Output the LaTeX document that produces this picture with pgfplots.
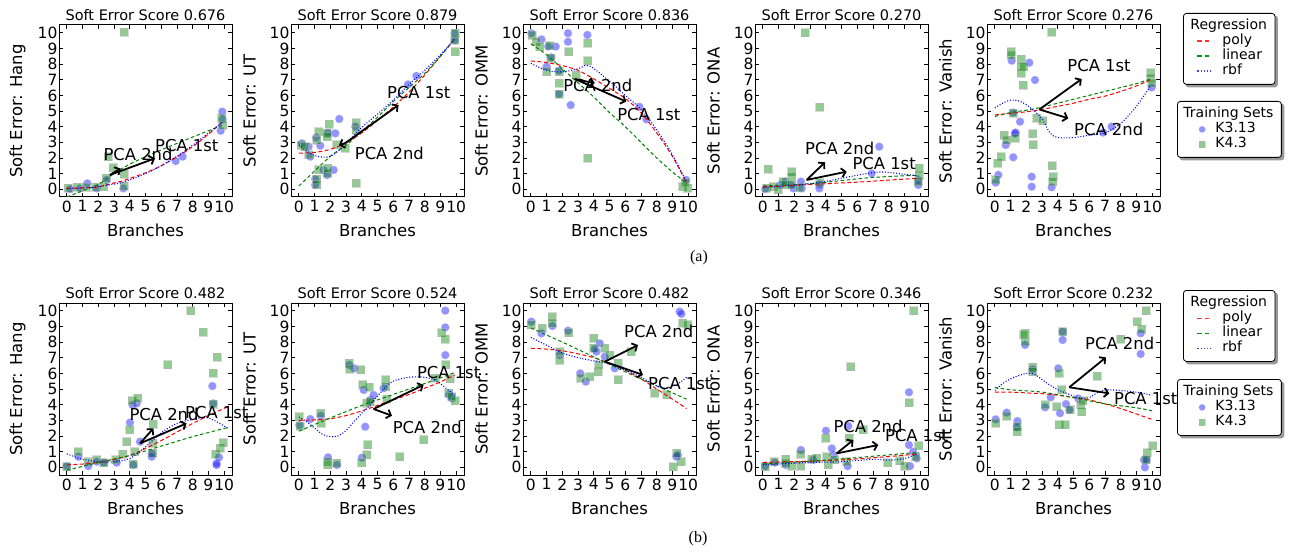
\documentclass[border=0pt]{standalone}
\usepackage{fontspec}
\setmainfont{DejaVu Sans}
\newfontfamily\capfont{Liberation Serif}
\usepackage{pgfplots}
\pgfplotsset{compat=1.18}
\usetikzlibrary{arrows.meta}
\pgfdeclarelayer{background}
\pgfsetlayers{background,main}

\pgfplotsset{
  panel/.style={
    scale only axis, width=173pt, height=172pt, anchor=south west,
    xmin=-0.5, xmax=10.5, ymin=-0.5, ymax=10.5,
    xtick={0,...,10}, ytick={0,...,10},
    tick align=inside, major tick length=4pt,
    tick style={black, line width=0.8pt},
    axis line style={black, line width=1pt},
    /pgf/number format/assume math mode=true,
    ticklabel style={font=\fontsize{15.5}{16}\selectfont},
    yticklabel style={xshift=2pt},
    every axis title/.style={at={(axis description cs:0.5,1)}, anchor=south, yshift=2.3pt, inner sep=2pt, font=\fontsize{14.5}{16}\selectfont},
    xlabel={Branches},
    every axis x label/.style={at={(axis description cs:0.5,-0.195)}, anchor=center, font=\fontsize{16.5}{18}\selectfont},
    every axis y label/.style={at={(axis description cs:-0.24,0.5)}, anchor=center, rotate=90, font=\fontsize{16.5}{18}\selectfont},
    clip mode=individual,
  },
  ptsA/.style={only marks, mark=*, mark size=4pt, mark options={fill=blue, fill opacity=0.42, draw=blue!40, draw opacity=0.3, line width=0.8pt}},
  ptsB/.style={only marks, mark=square*, mark size=4pt, mark options={fill=green!50!black, fill opacity=0.42, draw=gray!60, draw opacity=0.5, line width=1pt}},
  poly/.style={red, dash pattern=on 4pt off 2.5pt, line width=1pt, smooth, no marks},
  lin/.style={green!50!black, dash pattern=on 3.5pt off 2.5pt, line width=1pt, smooth, no marks},
  rbf/.style={blue, dash pattern=on 1pt off 1.8pt, line width=1.1pt, smooth, no marks},
  pca/.style={black, line width=1.8pt, -{Straight Barb[length=4pt,width=9pt]}, no marks},
  legbox/.style={hide axis, scale only axis, width=10pt, height=10pt, anchor=north west,
    xmin=0, xmax=1, ymin=0, ymax=1, legend cell align=left,
    legend style={at={(axis description cs:0,1)}, anchor=north west, draw=black, line width=0.8pt,
      rounded corners=3pt, fill=white, inner xsep=8pt, inner ysep=5.5pt, row sep=0pt,
      font=\fontsize{14}{14}\selectfont,
      nodes={inner sep=0pt, text height=11pt, text depth=4pt},
      /tikz/every odd column/.append style={column sep=#1}}},
  regbox/.style={legbox=9pt,
    legend image code/.code={\path[draw=none,fill=none] (0pt,0pt) -- (22pt,0pt); \draw[##1] (6pt,0pt) -- (19pt,0pt);}},
  trainbox/.style={legbox=8pt,
    legend image code/.code={\path[draw=none,fill=none] (0pt,0pt) -- (22pt,0pt); \draw[##1] plot coordinates {(16.7pt,0pt)};}},
}
\tikzset{pcatxt/.style={anchor=base west, inner sep=0pt, font=\fontsize{16.4}{18}\selectfont}}

\newcommand{\reglegend}{%
  \addlegendimage{empty legend}
  \addlegendentry{\hspace*{-32pt}Regression}
  \addlegendimage{draw=red!80, dash pattern=on 4.5pt off 3pt, line width=1.8pt, sharp corners}
  \addlegendentry{poly}
  \addlegendimage{draw=green!60!black, dash pattern=on 4.5pt off 3pt, line width=1.8pt, sharp corners}
  \addlegendentry{linear}
  \addlegendimage{draw=blue!75, dash pattern=on 1.3pt off 1.8pt, line width=1.8pt, sharp corners}
  \addlegendentry{rbf}
}
\newcommand{\trainlegend}{%
  \addlegendimage{empty legend}
  \addlegendentry{\hspace*{-32pt}Training Sets}
  \addlegendimage{only marks, mark=*, mark size=3.2pt, mark options={sharp corners, solid, fill=blue, fill opacity=0.42, draw=blue!40, draw opacity=0.3, line width=0.5pt}}
  \addlegendentry{K3.13}
  \addlegendimage{only marks, mark=square*, mark size=3.2pt, mark options={sharp corners, solid, fill=green!50!black, fill opacity=0.42, draw=gray!60, draw opacity=0.5, line width=0.8pt}}
  \addlegendentry{K4.3}
}
\newcommand{\legshadow}[1]{%
  \begin{pgfonlayer}{background}
  \fill[black!40, rounded corners=3pt] ([xshift=2.5pt,yshift=-2.5pt]#1.south west) rectangle ([xshift=2.5pt,yshift=-2.5pt]#1.north east);
  \end{pgfonlayer}}

\begin{document}
\begin{tikzpicture}
\useasboundingbox (0pt,0pt) rectangle (1289pt,552pt);

% ================= Row (a) =================
\begin{axis}[panel, at={(59pt,355pt)}, title={Soft Error Score 0.676}, ylabel={Soft Error: Hang}]
\addplot[ptsA] coordinates {(0.2,0) (0.84,0.05) (1.3,0.37) (1.9,0.05) (2.53,0.59) (3.59,0.05) (6.92,1.8) (7.36,2.08) (9.88,4.96) (9.78,3.74) (9.9,4.47)};
\addplot[ptsB] coordinates {(0.09,0.05) (0.66,0.12) (1.22,0.12) (1.83,0.12) (2.36,0.16) (2.49,0.69) (2.64,2.08) (2.95,1.38) (3.65,0.97) (3.65,10.03) (3.65,0.2) (9.84,4.53) (9.9,4.1)};
\addplot[poly] coordinates {(0,0.05) (1,0.08) (2,0.15) (3,0.4) (3.6,0.55) (5,1.05) (6,1.5) (7.3,2.25) (8.5,3.1) (9.9,4.3)};
\addplot[lin] coordinates {(0,-0.5) (1,-0.1) (2,0.3) (3,1.0) (4,1.6) (5.5,2.3) (7.3,3.05) (9.9,4.1)};
\addplot[rbf] coordinates {(0,0.05) (1.5,0.1) (2.5,0.25) (3.6,0.45) (5,1.0) (6,1.5) (7.3,2.3) (8.5,3.2) (9.9,4.3)};
\addplot[pca] coordinates {(2.74,0.91) (5.6,1.97)};
\addplot[pca] coordinates {(2.74,0.91) (3.42,1.33)};
\node[pcatxt] at (axis cs:2.32,1.82) {PCA 2nd};
\node[pcatxt] at (axis cs:5.6,2.4) {PCA 1st};
\end{axis}

\begin{axis}[panel, at={(291pt,355pt)}, title={Soft Error Score 0.879}, ylabel={Soft Error: UT}]
\addplot[ptsA] coordinates {(0.2,2.93) (0.62,2.72) (1.1,3.3) (1.36,2.78) (0.73,2.08) (1.04,0.65) (1.04,0.27) (1.57,1.23) (2.21,1.23) (1.85,3.61) (2.32,3.57) (2.57,4.49) (3.59,4.0) (6.94,6.7) (7.47,7.24) (9.9,9.97) (9.94,9.54) (1.79,0.9)};
\addplot[ptsB] coordinates {(0.14,2.82) (0.37,2.72) (0.62,2.19) (1.15,0.65) (1.15,0.27) (1.26,1.23) (1.26,3.68) (1.79,3.57) (1.79,3.36) (1.94,4.15) (1.83,1.01) (1.83,1.33) (2.42,2.83) (2.95,2.61) (3.65,4.25) (3.65,3.78) (3.65,0.37) (9.9,9.54) (9.94,8.8) (9.94,9.97) (1.15,3.14)};
\addplot[poly] coordinates {(0,2.3) (1,2.35) (2,2.55) (3,2.95) (4,3.6) (5,4.4) (6,5.25) (7,6.2) (8,7.3) (9,8.5) (9.9,9.6)};
\addplot[lin] coordinates {(0,0.2) (2,2.1) (3,2.8) (4,3.7) (5,4.6) (6,5.6) (7,6.5) (8,7.4) (9,8.5) (9.9,9.6)};
\addplot[rbf] coordinates {(0,2.8) (1,2.15) (2,2.1) (3,2.9) (4,3.95) (5,4.8) (6,5.7) (7,6.7) (8,7.6) (9,8.6) (9.9,9.6)};
\addplot[pca] coordinates {(2.95,2.95) (6.34,5.38)};
\addplot[pca] coordinates {(2.95,2.95) (2.55,2.8)};
\node[pcatxt] at (axis cs:5.6,5.8) {PCA 1st};
\node[pcatxt] at (axis cs:3.55,1.87) {PCA 2nd};
\end{axis}

\begin{axis}[panel, at={(523pt,355pt)}, title={Soft Error Score 0.836}, ylabel={Soft Error: OMM}]
\addplot[ptsA] coordinates {(0.03,9.97) (0.67,9.58) (1.1,9.12) (1.0,7.84) (1.3,8.43) (1.58,9.12) (1.79,7.58) (1.79,6.09) (2.36,9.97) (2.36,9.43) (2.53,5.38) (3.59,9.86) (6.9,5.27) (7.34,4.47) (9.88,0.59)};
\addplot[ptsB] coordinates {(0.09,9.86) (0.35,9.43) (0.56,9.12) (1.0,7.5) (1.2,9.16) (1.27,8.36) (1.79,7.5) (1.79,6.77) (1.79,6.07) (2.4,8.79) (3.63,9.33) (3.63,8.2) (3.63,1.97) (9.67,0.16) (9.99,0.05) (9.82,0.42) (2.89,7.3)};
\addplot[poly] coordinates {(0,8.2) (1,8.1) (2,7.9) (3,7.6) (4,7.05) (5,6.45) (6,5.8) (7,4.9) (8,3.6) (9,2.1) (9.9,0.4)};
\addplot[lin] coordinates {(0,9.3) (1,8.6) (2,7.7) (3,6.8) (4,5.9) (5,4.9) (6,4.0) (7,3.0) (8,2.0) (9,1.1) (9.9,0.4)};
\addplot[rbf] coordinates {(0,8.05) (1,7.6) (2,7.5) (3,7.7) (3.7,7.9) (5,6.9) (6,6.0) (7,5.1) (8,3.8) (9,2.2) (9.9,0.45)};
\addplot[pca] coordinates {(2.79,7.05) (6.07,5.6)};
\addplot[pca] coordinates {(2.79,7.05) (4.06,6.77)};
\node[pcatxt] at (axis cs:2.05,6.24) {PCA 2nd};
\node[pcatxt] at (axis cs:5.48,4.42) {PCA 1st};
\end{axis}

\begin{axis}[panel, at={(755pt,355pt)}, title={Soft Error Score 0.270}, ylabel={Soft Error: ONA}]
\addplot[ptsA] coordinates {(0.14,0) (1.09,0.27) (1.41,0.48) (1.79,0.27) (1.94,0.05) (2.42,0.48) (2.47,0.05) (3.59,0.31) (3.59,0.05) (6.92,1.01) (7.4,2.72) (9.88,0.59) (9.88,0.27)};
\addplot[ptsB] coordinates {(0.35,1.29) (0.24,0.05) (0.66,0.16) (0.97,-0.05) (1.3,0.48) (1.41,0.27) (1.83,1.12) (1.83,0.8) (1.83,0.27) (2.36,0.09) (2.68,10.01) (3.63,5.23) (3.63,0.42) (9.94,1.33) (9.94,0.9) (9.88,0.48)};
\addplot[poly] coordinates {(0,0.15) (2,0.25) (4,0.35) (6,0.45) (8,0.58) (9.9,0.7)};
\addplot[lin] coordinates {(0,0.2) (3,0.35) (5,0.55) (7,0.75) (9.9,0.9)};
\addplot[rbf] coordinates {(0,0.1) (2.5,0.3) (4,0.5) (5.5,0.8) (7.4,1.1) (9,0.95) (9.9,0.85)};
\addplot[pca] coordinates {(2.78,0.59) (5.33,1.12)};
\addplot[pca] coordinates {(2.78,0.59) (3.95,1.72)};
\node[pcatxt] at (axis cs:2.68,2.19) {PCA 2nd};
\node[pcatxt] at (axis cs:5.69,1.23) {PCA 1st};
\end{axis}

\begin{axis}[panel, at={(987pt,355pt)}, title={Soft Error Score 0.276}, ylabel={Soft Error: Vanish}]
\addplot[ptsA] coordinates {(0.05,0.42) (0.22,0.91) (0.69,2.83) (1.07,8.22) (1.17,2.04) (1.32,3.62) (1.6,4.32) (2.19,8.09) (2.55,6.98) (1.28,3.57) (2.34,0.8) (2.34,0.16) (3.61,0.12) (6.89,3.62) (7.42,4.0) (9.97,6.51) (1.17,4.9)};
\addplot[ptsB] coordinates {(0.05,0.59) (0.18,1.65) (0.39,2.08) (0.6,3.46) (0.75,3.14) (1.03,8.79) (1.03,8.58) (1.17,4.85) (1.69,8.31) (1.69,7.84) (1.69,7.41) (1.81,6.66) (1.85,7.84) (1.28,3.25) (2.4,3.53) (2.45,2.83) (2.66,4.53) (3.04,4.38) (3.61,10.03) (3.65,1.5) (3.71,0.8) (3.67,0.48) (9.9,7.45) (9.9,7.09) (9.97,6.77)};
\addplot[poly] coordinates {(0,4.75) (1,4.85) (2,4.95) (3,5.1) (4,5.3) (5,5.5) (6,5.75) (7,5.95) (8,6.25) (9,6.6) (9.9,7.0)};
\addplot[lin] coordinates {(0,4.65) (1,4.9) (2,5.05) (3,5.25) (4,5.5) (5,5.75) (6,6.0) (7,6.25) (8,6.5) (9,6.75) (9.9,7.05)};
\addplot[rbf] coordinates {(0,5.2) (0.5,5.5) (1,5.7) (1.5,5.65) (2,5.4) (2.5,5.0) (3,4.5) (3.5,3.6) (4,3.3) (5,3.3) (6,3.45) (7,3.6) (8,4.2) (9,5.3) (9.9,6.6)};
\addplot[pca] coordinates {(2.83,5.1) (5.52,7.05)};
\addplot[pca] coordinates {(2.83,5.1) (4.67,4.53)};
\node[pcatxt] at (axis cs:4.6,7.51) {PCA 1st};
\node[pcatxt] at (axis cs:5.03,3.46) {PCA 2nd};
\end{axis}

\begin{axis}[regbox, at={(1183pt,539pt)}, legend style={name=legRa}]
\reglegend
\end{axis}
\legshadow{legRa}
\begin{axis}[trainbox, at={(1177pt,451pt)}, legend style={name=legTa}]
\trainlegend
\end{axis}
\legshadow{legTa}

% ================= Row (b) =================
\begin{axis}[panel, at={(59pt,77pt)}, title={Soft Error Score 0.482}, ylabel={Soft Error: Hang}]
\addplot[ptsA] coordinates {(0,0.07) (0.73,0.67) (1.36,0.07) (1.9,0.35) (2.36,0.29) (3.17,0.29) (4.01,2.85) (4.18,3.98) (4.44,4.08) (4.65,1.63) (4.23,0.14) (5.39,0.88) (5.39,0.67) (9.25,5.19) (9.31,4.08) (9.52,0.25) (9.67,0.63) (9.52,0.14)};
\addplot[ptsB] coordinates {(0,0.03) (0.73,0.99) (1.36,0.35) (1.9,0.46) (2.36,0.29) (3.12,0.46) (3.55,0.84) (3.8,1.63) (4.01,2.38) (4.16,4.25) (4.5,4.4) (4.23,0.18) (4.33,0.99) (5.49,2.76) (5.45,1.52) (5.45,0.88) (6.41,6.56) (7.87,10.01) (8.68,8.63) (9.31,6.0) (9.57,7.02) (9.31,4.04) (9.48,0.84) (9.74,1.2) (9.95,1.57)};
\addplot[poly] coordinates {(0,0.15) (1,0.2) (2,0.3) (3,0.5) (4,0.75) (5,1.2) (6,1.7) (7,2.25) (8,2.8) (9,3.3) (10.3,3.9)};
\addplot[lin] coordinates {(0,-0.2) (2,0.3) (4,0.75) (6,1.35) (8,1.95) (10.3,2.55)};
\addplot[rbf] coordinates {(0,0.85) (1,0.5) (2,0.35) (3,0.35) (4,0.55) (5,1.3) (6,2.2) (7,2.8) (8,3.05) (9,3.15) (10.3,2.45)};
\addplot[pca] coordinates {(4.65,1.52) (7.61,2.8)};
\addplot[pca] coordinates {(4.65,1.52) (5.5,2.48)};
\node[pcatxt] at (axis cs:3.97,2.97) {PCA 2nd};
\node[pcatxt] at (axis cs:7.51,3.12) {PCA 1st};
\end{axis}

\begin{axis}[panel, at={(291pt,77pt)}, title={Soft Error Score 0.524}, ylabel={Soft Error: UT}]
\addplot[ptsA] coordinates {(0.03,2.69) (0.73,3.08) (1.4,3.29) (1.85,0.63) (2.42,0.14) (3.21,6.54) (3.52,6.32) (4.12,4.94) (4.22,2.59) (4.01,0.61) (4.54,4.3) (4.75,4.62) (5.39,5.05) (9.31,10.01) (9.31,8.94) (9.31,7.17) (9.56,4.62) (9.73,4.4)};
\addplot[ptsB] coordinates {(0.03,3.23) (0.09,2.63) (1.4,3.44) (1.43,2.8) (1.85,0.35) (1.85,0.14) (2.42,0.25) (3.21,6.64) (3.25,6.26) (3.92,6.22) (4.05,5.26) (4.46,5.11) (4.39,1.42) (4.33,0.78) (4.01,0.29) (4.33,4.08) (4.54,4.19) (5.53,5.58) (5.53,5.15) (5.6,4.36) (6.4,0.67) (7.93,1.74) (9.1,8.6) (9.31,8.18) (9.35,6.54) (9.63,5.64) (9.52,4.72) (9.95,4.25) (9.73,4.51) (8.67,5.68)};
\addplot[poly] coordinates {(0,3.0) (1,3.02) (2,3.1) (3,3.3) (4,3.6) (5,3.95) (6,4.3) (7,4.65) (8,5.05) (9,5.45) (9.9,5.9)};
\addplot[lin] coordinates {(0,2.3) (2,3.15) (4,3.95) (6,4.65) (8,5.35) (9.9,6.05)};
\addplot[rbf] coordinates {(0,3.2) (0.5,2.9) (1,2.5) (1.5,2.1) (2,1.95) (2.5,2.0) (3,2.35) (3.5,2.9) (4,3.45) (4.5,3.95) (5,4.55) (5.5,5.1) (6,5.5) (7,5.75) (8,5.75) (8.7,5.55) (9.3,5.1) (9.9,4.6)};
\addplot[pca] coordinates {(4.75,3.72) (7.93,5.26)};
\addplot[pca] coordinates {(4.75,3.72) (5.92,3.29)};
\node[pcatxt] at (axis cs:7.5,5.68) {PCA 1st};
\node[pcatxt] at (axis cs:5.96,2.17) {PCA 2nd};
\end{axis}

\begin{axis}[panel, at={(523pt,77pt)}, title={Soft Error Score 0.482}, ylabel={Soft Error: OMM}]
\addplot[ptsA] coordinates {(0.03,9.31) (0.67,8.56) (1.37,9.03) (1.83,7.17) (2.36,8.73) (3.14,6.0) (3.49,5.47) (4.06,7.55) (4.17,7.39) (4.38,7.92) (4.7,7.07) (5.33,6.32) (9.46,9.95) (9.57,9.8) (9.25,0.67) (9.35,0.78)};
\addplot[ptsB] coordinates {(0.03,9.1) (0.71,8.88) (1.37,9.63) (1.37,9.2) (1.83,7.39) (1.83,6.85) (2.42,8.6) (3.18,5.68) (3.74,5.79) (3.99,8.24) (3.99,7.6) (4.27,6.11) (4.33,6.54) (4.7,7.6) (5.01,7.17) (5.54,5.58) (5.54,6.64) (6.39,7.39) (7.87,4.72) (8.65,4.62) (9.04,0.03) (9.29,0.88) (9.57,0.35) (9.67,9.2) (9.99,9.1)};
\addplot[poly] coordinates {(0,7.6) (1,7.55) (2,7.45) (3,7.25) (4,7.0) (5,6.65) (6,6.2) (7,5.65) (8,5.0) (9,4.35) (9.9,3.75)};
\addplot[lin] coordinates {(0,8.9) (2,8.0) (4,7.05) (6,6.1) (8,5.2) (9.9,4.35)};
\addplot[rbf] coordinates {(0,8.3) (1,7.8) (2,7.3) (3,7.0) (4,6.8) (5,6.6) (6,6.2) (7,5.75) (8,5.2) (8.6,5.05) (9.3,5.3) (9.9,5.75)};
\addplot[pca] coordinates {(4.7,6.75) (7.13,5.9)};
\addplot[pca] coordinates {(4.7,6.75) (6.81,7.81)};
\node[pcatxt] at (axis cs:5.92,8.3) {PCA 2nd};
\node[pcatxt] at (axis cs:7.45,4.94) {PCA 1st};
\end{axis}

\begin{axis}[panel, at={(755pt,77pt)}, title={Soft Error Score 0.346}, ylabel={Soft Error: ONA}]
\addplot[ptsA] coordinates {(0.14,0.07) (0.77,0.29) (1.45,0.14) (2.42,1.1) (3.2,0.46) (4.01,2.33) (4.38,1.2) (4.48,0.78) (5.43,2.63) (5.39,0.07) (9.29,4.79) (9.29,1.42) (9.56,0.99) (9.78,0.56) (9.35,0.07)};
\addplot[ptsB] coordinates {(0.14,0.03) (0.73,0.35) (1.45,0.5) (1.45,0.25) (1.83,0.07) (2.42,0.84) (2.42,0.07) (3.1,0.52) (3.42,0.57) (4.01,1.84) (4.06,0.67) (4.16,0.14) (4.58,0.46) (5.33,0.35) (5.48,1.84) (5.6,6.43) (6.39,2.38) (7.93,0.29) (8.71,0.42) (9.03,0.07) (9.31,4.12) (9.59,10.01) (9.92,1.37) (9.71,0.67)};
\addplot[poly] coordinates {(0,0.3) (4,0.42) (7,0.6) (9.9,0.85)};
\addplot[lin] coordinates {(0,0.2) (4,0.45) (7,0.7) (9.9,0.95)};
\addplot[rbf] coordinates {(0,0.15) (3,0.3) (5,0.35) (7,0.5) (8,0.45) (9,0.55) (9.9,0.9)};
\addplot[pca] coordinates {(4.69,0.88) (7.34,1.42)};
\addplot[pca] coordinates {(4.69,0.88) (5.75,1.74)};
\node[pcatxt] at (axis cs:4.48,2.23) {PCA 2nd};
\node[pcatxt] at (axis cs:7.76,1.63) {PCA 1st};
\end{axis}

\begin{axis}[panel, at={(987pt,77pt)}, title={Soft Error Score 0.232}, ylabel={Soft Error: Vanish}]
\addplot[ptsA] coordinates {(0.05,3.06) (0.75,3.49) (1.43,2.95) (1.92,7.82) (2.4,6.26) (1.39,2.55) (3.19,3.83) (3.55,4.47) (4.03,6.32) (4.31,8.67) (4.31,8.14) (4.14,3.45) (4.52,4.04) (4.73,3.66) (5.3,4.4) (9.27,8.56) (9.27,7.24) (9.48,0.46) (9.54,-0.01) (9.65,0.46)};
\addplot[ptsB] coordinates {(0.05,2.8) (0.75,3.27) (1.43,2.59) (1.43,2.27) (1.92,8.56) (1.92,8.03) (1.85,8.46) (2.4,6.39) (2.4,6.11) (3.19,3.98) (3.92,3.87) (4.1,6.0) (4.24,4.94) (4.31,8.67) (4.1,2.7) (4.46,2.7) (4.78,3.66) (5.45,3.98) (5.52,3.55) (5.58,4.25) (6.51,5.83) (7.99,8.18) (9.06,9.31) (9.33,8.82) (9.61,10.01) (10.03,1.37) (9.69,0.93) (9.61,0.46)};
\addplot[poly] coordinates {(0,4.8) (1,4.8) (2,4.75) (3,4.7) (4,4.6) (5,4.45) (6,4.3) (7,4.05) (8,3.75) (9,3.4) (10,3.05)};
\addplot[lin] coordinates {(0,5.1) (1,4.95) (3,4.8) (5,4.45) (7,4.05) (9,3.8) (10,3.6)};
\addplot[rbf] coordinates {(0,4.9) (0.5,5.35) (1,5.65) (1.5,5.85) (2,6.0) (2.5,5.95) (3,5.6) (3.5,5.25) (4,4.95) (4.5,4.75) (5,4.55) (5.5,4.4) (6,4.45) (6.5,4.75) (7,4.95) (8,4.9) (9,4.8) (10,4.6)};
\addplot[pca] coordinates {(4.73,5.11) (7.28,4.72)};
\addplot[pca] coordinates {(4.73,5.11) (7.06,7.02)};
\node[pcatxt] at (axis cs:5.73,7.5) {PCA 2nd};
\node[pcatxt] at (axis cs:7.57,4.04) {PCA 1st};
\end{axis}

\begin{axis}[regbox, at={(1183pt,262pt)}, legend style={name=legRb}]
\reglegend
\end{axis}
\legshadow{legRb}
\begin{axis}[trainbox, at={(1177pt,173pt)}, legend style={name=legTb}]
\trainlegend
\end{axis}
\legshadow{legTb}

\node[font=\capfont\fontsize{16}{18}\selectfont] at (699pt,294pt) {(a)};
\node[font=\capfont\fontsize{16}{18}\selectfont] at (698pt,13pt) {(b)};
\end{tikzpicture}
\end{document}
